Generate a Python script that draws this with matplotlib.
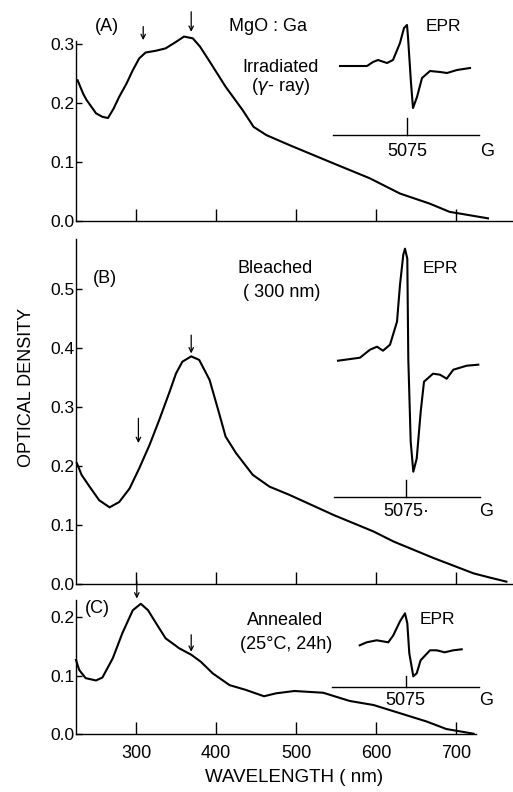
import matplotlib.pyplot as plt

plt.rcParams['font.family'] = ['Liberation Sans', 'DejaVu Sans']

# optical absorption spectra (wavelength nm, optical density)
wl_a = [227, 234, 238, 250, 258, 265, 272, 279, 288, 296, 304, 312, 325, 337, 350, 360,
        371, 380, 391, 412, 433, 447, 463, 492, 547, 592, 630, 667, 692, 740]
od_a = [0.238, 0.215, 0.205, 0.182, 0.176, 0.174, 0.190, 0.210, 0.232, 0.255, 0.275, 0.285,
        0.288, 0.292, 0.303, 0.312, 0.309, 0.295, 0.272, 0.227, 0.188, 0.159, 0.145, 0.128,
        0.097, 0.072, 0.046, 0.029, 0.015, 0.004]

wl_b = [226, 232, 242, 254, 267, 279, 292, 304, 317, 329, 342, 350, 358, 369, 379, 392,
        404, 412, 425, 446, 467, 492, 547, 597, 622, 672, 722, 742, 763]
od_b = [0.205, 0.185, 0.165, 0.142, 0.130, 0.139, 0.162, 0.196, 0.236, 0.278, 0.326, 0.357,
        0.377, 0.386, 0.380, 0.346, 0.289, 0.250, 0.222, 0.185, 0.165, 0.151, 0.117, 0.089,
        0.072, 0.044, 0.018, 0.011, 0.004]

wl_c = [225, 229, 237, 250, 258, 271, 283, 296, 306, 315, 325, 337, 354, 369, 381, 396,
        417, 437, 460, 475, 498, 534, 567, 597, 630, 663, 688, 722]
od_c = [0.127, 0.110, 0.096, 0.092, 0.097, 0.130, 0.173, 0.212, 0.223, 0.212, 0.190, 0.164,
        0.147, 0.136, 0.124, 0.104, 0.084, 0.076, 0.065, 0.070, 0.074, 0.071, 0.057, 0.050,
        0.036, 0.022, 0.009, 0.001]

# EPR derivative traces (field offset from 5075 G, signal arb. units)
epr_a_x = [-67, -40, -34, -29, -20, -14, -7, -3, 0, 1, 4, 6, 10, 15, 23, 33, 40, 50, 63]
epr_a_y = [69, 69, 73, 75, 72, 75, 92, 107, 110, 98, 52, 27, 38, 57, 64, 63, 62, 65, 67]

epr_b_x = [-68, -46, -36, -29, -23, -16, -9, -6, -2.7, -1, 1.3, 2.3, 4.7, 7.3, 10.7, 14.7,
           18, 27, 34, 40.7, 47.3, 60.7, 72.3]
epr_b_y = [136, 139, 147, 150, 146, 152, 175, 212, 242, 248, 238, 138, 55, 25, 38, 85,
           115, 123, 122, 118, 127, 131, 132]

epr_c_x = [-46, -39, -29, -17.4, -12.4, -5.7, -0.7, 1.6, 3.6, 7.6, 11, 14.9, 24.3, 31, 39, 47.6, 56]
epr_c_y = [42, 45, 47, 45, 52, 66, 74, 64, 34, 11, 14, 27, 37, 37, 35, 37, 38]

# arrows: wavelength, start OD, end OD
arrows_a = [(309, 0.329, 0.306), (369, 0.354, 0.320)]
arrows_b = [(303, 0.281, 0.239), (369, 0.422, 0.391)]
arrows_c = [(301, 0.262, 0.232), (369, 0.170, 0.141)]

W, H = 513, 792
fig = plt.figure(figsize=(W / 100, H / 100), dpi=100)


def px_rect(x0, x1, y_top, y_bot):
    return [x0 / W, 1 - y_bot / H, (x1 - x0) / W, (y_bot - y_top) / H]


ax_a = fig.add_axes(px_rect(76, 512, 40.7, 220.7))
ax_b = fig.add_axes(px_rect(76, 512, 239, 584))
ax_c = fig.add_axes(px_rect(76, 512, 599.7, 734.3))

panels = [
    (ax_a, wl_a, od_a, 0.305, [0.0, 0.1, 0.2, 0.3], arrows_a),
    (ax_b, wl_b, od_b, 0.585, [0.0, 0.1, 0.2, 0.3, 0.4, 0.5], arrows_b),
    (ax_c, wl_c, od_c, 0.23, [0.0, 0.1, 0.2], arrows_c),
]

for ax, x, y, top, yt, arr in panels:
    ax.plot(x, y, color='black', lw=1.5, clip_on=False, solid_joinstyle='round')
    ax.set_xlim(225, 770)
    ax.set_ylim(0, top)
    ax.spines['top'].set_visible(False)
    ax.spines['right'].set_visible(False)
    ax.spines['left'].set_linewidth(1.0)
    ax.spines['bottom'].set_linewidth(1.0)
    ax.set_yticks(yt)
    ax.set_yticklabels(['%.1f' % v for v in yt], fontsize=12.5)
    ax.set_xticks([300, 400, 500, 600, 700])
    ax.tick_params(axis='x', direction='in', length=9, width=1.0, pad=8, labelsize=13)
    ax.tick_params(axis='y', direction='in', length=4, width=1.0, pad=1)
    for w, s, e in arr:
        ax.annotate('', xy=(w, e), xytext=(w, s), annotation_clip=False,
                    arrowprops=dict(arrowstyle='->', lw=0.9, color='black',
                                    shrinkA=0, shrinkB=0, mutation_scale=8))

ax_a.set_xticklabels([])
ax_b.set_xticklabels([])
ax_c.spines['bottom'].set_bounds(225, 725)
ax_c.set_xlabel('WAVELENGTH ( nm)', fontsize=13.5, labelpad=5)
fig.text(27 / W, 1 - 387 / H, 'OPTICAL DENSITY', rotation=90, fontsize=13,
         ha='center', va='center')

ax_a.text(264, 0.329, '(A)', fontsize=13, ha='center', va='center')
ax_a.text(465, 0.329, 'MgO : Ga', fontsize=13, ha='center', va='center')
ax_a.text(481, 0.259, 'Irradiated', fontsize=13, ha='center', va='center')
ax_a.text(481, 0.228, r'($\gamma$- ray)', fontsize=13, ha='center', va='center')

ax_b.text(261, 0.518, '(B)', fontsize=13, ha='center', va='center')
ax_b.text(474, 0.535, 'Bleached', fontsize=13, ha='center', va='center')
ax_b.text(482, 0.495, '( 300 nm)', fontsize=13, ha='center', va='center')

ax_c.text(252, 0.215, '(C)', fontsize=13, ha='center', va='center')
ax_c.text(486, 0.195, 'Annealed', fontsize=13, ha='center', va='center')
ax_c.text(488, 0.153, '(25°C, 24h)', fontsize=13, ha='center', va='center')

# EPR insets: 1 data unit = 1 pixel, origin at the 5075 G tick on the field line
insets = [
    (407, 135, -25, 125, epr_a_x, epr_a_y, -74, 72, 17, -17, 36, 108, '5075'),
    (406, 496.7, -25, 260, epr_b_x, epr_b_y, -72, 74, 16.7, -15, 34, 228, '5075·'),
    (405.7, 687.3, -20, 85, epr_c_x, epr_c_y, -74, 73, 11.6, -13, 32, 68, '5075'),
]
for cx, cy, y0, y1, ex, ey, l0, l1, tk, ty, epx, epy, lab in insets:
    ins = fig.add_axes(px_rect(cx - 80, cx + 90, cy - y1, cy - y0))
    ins.set_xlim(-80, 90)
    ins.set_ylim(y0, y1)
    ins.axis('off')
    ins.plot(ex, ey, color='black', lw=1.5, solid_joinstyle='round')
    ins.plot([l0, l1], [0, 0], color='black', lw=1.0)
    ins.plot([0, 0], [0, tk], color='black', lw=1.0)
    ins.text(0, ty, lab, fontsize=13, ha='center', va='center')
    ins.text(80, ty, 'G', fontsize=13, ha='center', va='center')
    ins.text(epx, epy, 'EPR', fontsize=12.5, ha='center', va='center')

fig.savefig('out.png', dpi=100)
